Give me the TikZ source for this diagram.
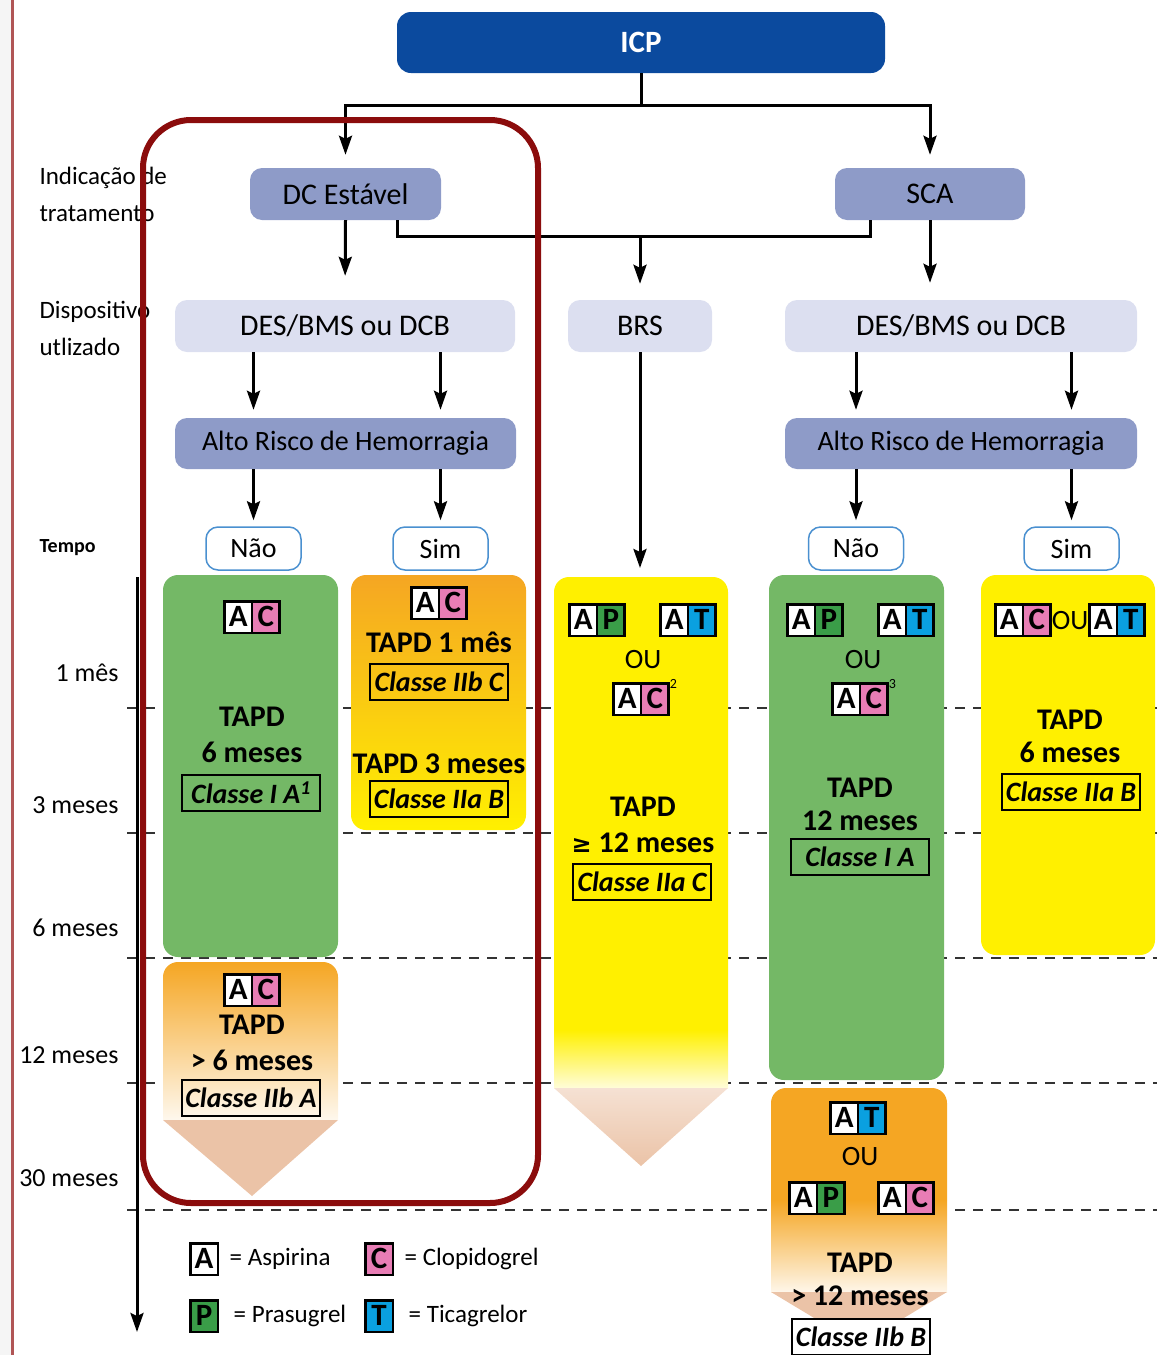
\documentclass[tikz,border=0pt]{standalone}
\usepackage{fontspec}
\setmainfont{Carlito}
\newfontfamily\symfont{DejaVu Sans}
\usepackage{xcolor}
\usepackage{tikz}
\usetikzlibrary{arrows.meta, positioning, calc}

\definecolor{icpblue}{HTML}{0B4A9E}
\definecolor{boxmid}{HTML}{8E9BC8}
\definecolor{boxlight}{HTML}{DCDFF0}
\definecolor{ynblue}{HTML}{4A90D0}
\definecolor{cgreen}{HTML}{74B866}
\definecolor{corange}{HTML}{F5A623}
\definecolor{cyellow}{HTML}{FFF000}
\definecolor{cpeach}{HTML}{EBC3A7}
\definecolor{cpink}{HTML}{E87DB5}
\definecolor{pgreen}{HTML}{3A9D48}
\definecolor{tblue}{HTML}{0AA0E0}
\definecolor{cframe}{HTML}{8B0C0C}
\definecolor{cthin}{HTML}{B05555}

\setlength{\fboxsep}{0pt}
\setlength{\fboxrule}{2.5pt}
\newcommand{\dg}[2]{\fcolorbox{black}{#1}{\makebox[25pt]{\rule[-5pt]{0pt}{29pt}\fontsize{31}{31}\selectfont\bfseries #2}}}
\newcommand{\dpair}[4]{\dg{#1}{#2}\kern-\fboxrule\dg{#3}{#4}}
\newcommand{\supnum}[1]{\rlap{\raisebox{20pt}{\fontsize{14}{14}\selectfont #1}}}

\tikzstyle{icpbox} = [rectangle, rounded corners=14pt, fill=icpblue, text=white, font=\fontsize{31}{34}\selectfont\bfseries, minimum width=488pt, minimum height=61pt]
\tikzstyle{indbox} = [rectangle, rounded corners=12pt, fill=boxmid, font=\fontsize{30}{34}\selectfont, minimum height=52pt]
\tikzstyle{devbox} = [rectangle, rounded corners=12pt, fill=boxlight, font=\fontsize{30}{34}\selectfont, minimum height=52pt]
\tikzstyle{riskbox} = [rectangle, rounded corners=12pt, fill=boxmid, font=\fontsize{28}{32}\selectfont, minimum height=51pt]
\tikzstyle{yesno} = [rectangle, rounded corners=12pt, draw=ynblue, line width=1.5pt, fill=white, minimum width=95pt, minimum height=43pt, font=\fontsize{28}{30}\selectfont]
\tikzstyle{arrow} = [line width=3pt, -{Stealth[length=19pt,width=13pt,inset=3pt]}]
\tikzstyle{line} = [line width=3pt]
\tikzstyle{grade} = [draw=black, line width=2pt, inner sep=2pt, font=\fontsize{28}{30}\selectfont\bfseries\itshape, minimum width=138pt, minimum height=36pt]
\tikzstyle{txt} = [align=center, font=\fontsize{30}{36}\selectfont\bfseries]
\tikzstyle{ou} = [font=\fontsize{28}{30}\selectfont]
\tikzstyle{sidelbl} = [anchor=west, align=left, font=\fontsize{25}{37}\selectfont]
\tikzstyle{timelbl} = [anchor=east, font=\fontsize{26}{28}\selectfont]
\tikzstyle{legtxt} = [font=\fontsize{25}{27}\selectfont, inner sep=0pt]
\tikzstyle{grid} = [black!80, line width=1.5pt, dash pattern=on 10pt off 8pt]

\begin{document}
\begin{tikzpicture}[x=1pt, y=-1pt]
    \useasboundingbox (0,0) rectangle (1157,1355);
    \fill[gray!8] (0,0) rectangle (12,1355);
    \draw[cthin, line width=3pt] (12,0) -- (12,1355);

    % Time grid
    \foreach \y in {708,833,958,1083,1210}
        \draw[grid] (127,\y) -- (1157,\y);

    % Columns
    \fill[cgreen, rounded corners=15pt] (163,575) rectangle (338,957);
    \shade[top color=corange, bottom color=cyellow, rounded corners=15pt] (351,575) rectangle (526,830);
    \shade[top color=corange, middle color=corange, bottom color=corange!8!white] (163,1120) [rounded corners=15pt]-- (163,962) -- (338,962) [sharp corners]-- (338,1120) -- cycle;
    \fill[cpeach] (163,1120) -- (338,1120) -- (252,1196) -- cycle;
    \fill[cyellow] (554,1030) [rounded corners=15pt]-- (554,577) -- (728,577) [sharp corners]-- (728,1030) -- cycle;
    \shade[top color=cyellow, bottom color=cyellow!15!white] (554,1030) rectangle (728,1088);
    \shade[top color=cpeach!50!white, bottom color=cpeach] (554,1088) -- (728,1088) -- (641,1166) -- cycle;
    \fill[cgreen, rounded corners=15pt] (769,575) rectangle (944,1080);
    \fill[corange] (771,1200) [rounded corners=15pt]-- (771,1088) -- (947,1088) [sharp corners]-- (947,1200) -- cycle;
    \shade[top color=corange, bottom color=corange!10!white] (771,1200) rectangle (947,1292);
    \fill[cpeach] (771,1292) -- (947,1292) -- (859,1345) -- cycle;
    \fill[cyellow, rounded corners=15pt] (981,575) rectangle (1155,955);

    % Flow boxes
    \node[icpbox] (icp) at (641,42.5) {ICP};
    \node[indbox, minimum width=191pt] (dcest) at (345.5,194) {DC Estável};
    \node[indbox, minimum width=190pt] (sca) at (930,194) {SCA};
    \node[devbox, minimum width=340pt] (desL) at (345,326) {DES/BMS ou DCB};
    \node[devbox, minimum width=144pt] (brs) at (640,326) {BRS};
    \node[devbox, minimum width=352pt] (desR) at (961,326) {DES/BMS ou DCB};
    \node[riskbox, minimum width=341pt] (altoL) at (345.5,443.5) {Alto Risco de Hemorragia};
    \node[riskbox, minimum width=352pt] (altoR) at (961,443.5) {Alto Risco de Hemorragia};
    \node[yesno] (naoL) at (253.5,548.5) {Não};
    \node[yesno] (simL) at (440.5,548.5) {Sim};
    \node[yesno] (naoR) at (856,548.5) {Não};
    \node[yesno] (simR) at (1071.5,548.5) {Sim};
    \coordinate (join) at (640,236);
    \coordinate (brstop) at (640,577);

    % Connections
    \draw[arrow, shorten >=13pt] (icp.south) -- ++(0,32) -| (dcest.north);
    \draw[arrow, shorten >=13pt] (icp.south) -- ++(0,32) -| (sca.north);
    \draw[arrow, shorten >=24pt] (dcest.south) -- (desL.north);
    \draw[arrow, shorten >=17pt] (sca.south) -- (sca.south |- desR.north);
    \draw[line] ([xshift=52pt]dcest.south) |- (join) -| ([xshift=-60pt]sca.south);
    \draw[arrow, shorten >=16pt] (join) -- (brs.north);
    \draw[arrow, shorten >=8pt] (naoL |- desL.south) -- (naoL |- altoL.north);
    \draw[arrow, shorten >=8pt] (simL |- desL.south) -- (simL |- altoL.north);
    \draw[arrow, shorten >=8pt] (naoR |- desR.south) -- (naoR |- altoR.north);
    \draw[arrow, shorten >=8pt] (simR |- desR.south) -- (simR |- altoR.north);
    \draw[arrow, shorten >=6pt] (naoL |- altoL.south) -- (naoL.north);
    \draw[arrow, shorten >=6pt] (simL |- altoL.south) -- (simL.north);
    \draw[arrow, shorten >=6pt] (naoR |- altoR.south) -- (naoR.north);
    \draw[arrow, shorten >=6pt] (simR |- altoR.south) -- (simR.north);
    \draw[arrow, shorten >=9pt] (brs.south) -- (brstop);

    % DC estavel, nao
    \node (acL) at (252,617) {\dpair{white}{A}{cpink}{C}};
    \node[txt] (tapdL) at (252,735) {TAPD\\6 meses};
    \node[grade] (gradeL) at (251,793) {Classe I A\textsuperscript{1}};
    % DC estavel, sim
    \node (acS) at (439,603) {\dpair{white}{A}{cpink}{C}};
    \node[txt] (tapdS1) at (439,642) {TAPD 1 mês};
    \node[grade] (gradeS1) at (439,682) {Classe IIb C};
    \node[txt] (tapdS3) at (439,764) {TAPD 3 meses};
    \node[grade] (gradeS3) at (439,799) {Classe IIa B};
    % DC estavel, prolongado
    \node (acP) at (252,990) {\dpair{white}{A}{cpink}{C}};
    \node[txt] (tapdP) at (252,1043) {TAPD\\> 6 meses};
    \node[grade] (gradeP) at (251,1098) {Classe IIb A};
    % BRS
    \node (apB) at (597,620) {\dpair{white}{A}{pgreen}{P}};
    \node (atB) at (688,620) {\dpair{white}{A}{tblue}{T}};
    \node[ou] (ouB) at (643,660) {OU};
    \node (acB) at (641,698) {\dpair{white}{A}{cpink}{C}\supnum{2}};
    \node[txt] (tapdB) at (643,825) {TAPD\\{\symfont\fontsize{24}{30}\selectfont ≥} 12 meses};
    \node[grade] (gradeB) at (642,882) {Classe IIa C};
    % SCA, nao
    \node (apN) at (815,620) {\dpair{white}{A}{pgreen}{P}};
    \node (atN) at (906,620) {\dpair{white}{A}{tblue}{T}};
    \node[ou] (ouN) at (863,660) {OU};
    \node (acN) at (860,698) {\dpair{white}{A}{cpink}{C}\supnum{3}};
    \node[txt, font=\fontsize{30}{33}\selectfont\bfseries] (tapdN) at (860,804) {TAPD\\12 meses};
    \node[grade] (gradeN) at (860,857) {Classe I A};
    % SCA, prolongado
    \node (atX) at (858,1118) {\dpair{white}{A}{tblue}{T}};
    \node[ou] (ouX) at (860,1157) {OU};
    \node (apX) at (817,1198) {\dpair{white}{A}{pgreen}{P}};
    \node (acX) at (906,1198) {\dpair{white}{A}{cpink}{C}};
    \node[txt, font=\fontsize{30}{33}\selectfont\bfseries] (tapdX) at (860,1279) {TAPD\\> 12 meses};
    \node[grade, fill=white] (gradeX) at (861,1337) {Classe IIb B};
    % SCA, sim
    \node (acY) at (1070,620) {\dpair{white}{A}{cpink}{C}{\fontsize{28}{30}\selectfont OU}\dpair{white}{A}{tblue}{T}};
    \node[txt, font=\fontsize{30}{33}\selectfont\bfseries] (tapdY) at (1070,736) {TAPD\\6 meses};
    \node[grade] (gradeY) at (1071,792) {Classe IIa B};

    % Side labels
    \node[sidelbl] (indic) at (36,194) {Indicação de\\tratamento};
    \node[sidelbl] (disp) at (36,328) {Dispositivo\\utlizado};
    \node[sidelbl, font=\fontsize{20}{22}\selectfont\bfseries] (tempo) at (36,548) {Tempo};
    \node[timelbl] (t1) at (122,673) {1 mês};
    \node[timelbl] (t3) at (122,805) {3 meses};
    \node[timelbl] (t6) at (122,928) {6 meses};
    \node[timelbl] (t12) at (122,1055) {12 meses};
    \node[timelbl] (t30) at (122,1178) {30 meses};
    \coordinate (axtop) at (137,577);
    \coordinate (axend) at (137,1332);
    \draw[arrow] (axtop) -- (axend);

    % Legend
    \node (legA) at (204,1259) {\dg{white}{A}};
    \node[legtxt, right=7pt of legA] (legAt) {= Aspirina};
    \node (legC) at (379,1259) {\dg{cpink}{C}};
    \node[legtxt, right=7pt of legC] (legCt) {= Clopidogrel};
    \node (legP) at (204,1316) {\dg{pgreen}{P}};
    \node[legtxt, right=11pt of legP] (legPt) {= Prasugrel};
    \node (legT) at (379,1316) {\dg{tblue}{T}};
    \node[legtxt, right=11pt of legT] (legTt) {= Ticagrelor};

    % Highlight frame
    \draw[cframe, line width=6pt, rounded corners=48pt] (143,120) rectangle (538,1203);
\end{tikzpicture}
\end{document}
